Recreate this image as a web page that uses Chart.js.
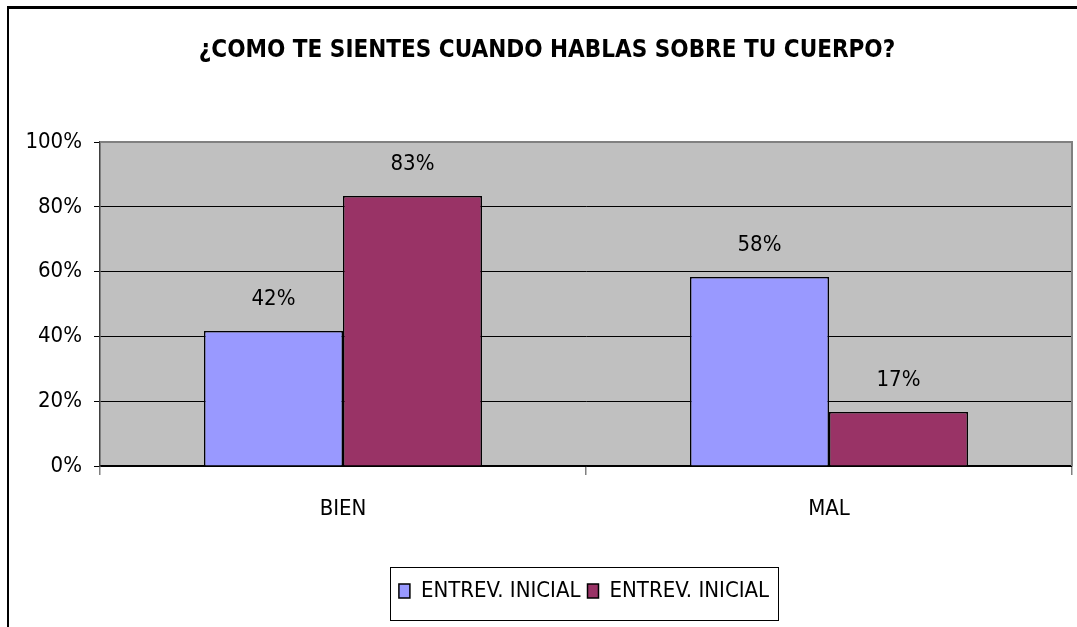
<!DOCTYPE html>
<html>
<head>
<meta charset="utf-8">
<script src="https://cdn.jsdelivr.net/npm/chart.js@4.4.0/dist/chart.umd.min.js"></script>
<style>
  html, body { margin: 0; padding: 0; background: #fff; overflow: hidden; }
  #wrap { position: relative; width: 1077px; height: 627px; }
  #frame { position: absolute; left: 7px; top: 6px; width: 1200px; height: 800px;
           border-left: 2px solid #000; border-top: 3px solid #000; pointer-events: none; }
</style>
</head>
<body>
<div id="wrap">
  <canvas id="chart" width="1077" height="627"></canvas>
  <div id="frame"></div>
</div>
<script>
// data
var categories = ['BIEN', 'MAL'];
var seriesNames = ['ENTREV. INICIAL', 'ENTREV. INICIAL'];
var serieAzul = [41.67, 58.33];
var serieGranate = [83.33, 16.67];
var yTicks = [0, 20, 40, 60, 80, 100];

var FONT = "'Liberation Sans Narrow', 'DejaVu Sans Condensed', sans-serif";

// fondo gris del area de trazado
var plotBg = {
  id: 'plotBg',
  beforeDraw: function(chart) {
    var a = chart.chartArea, ctx = chart.ctx;
    ctx.save();
    ctx.fillStyle = '#C0C0C0';
    ctx.fillRect(a.left, a.top, a.right - a.left, a.bottom - a.top);
    ctx.restore();
  },
  afterDraw: function(chart) {
    var a = chart.chartArea, ctx = chart.ctx;
    ctx.save();
    ctx.strokeStyle = '#808080';
    ctx.lineWidth = 2;
    ctx.beginPath();
    ctx.moveTo(a.left, a.top);
    ctx.lineTo(a.right, a.top);
    ctx.lineTo(a.right, a.bottom);
    ctx.stroke();
    ctx.restore();
  }
};

// etiquetas de valor encima de las barras
var valueLabels = {
  id: 'valueLabels',
  afterDatasetsDraw: function(chart) {
    var ctx = chart.ctx;
    ctx.save();
    ctx.font = '22px ' + FONT;
    ctx.fillStyle = '#000';
    ctx.textAlign = 'center';
    ctx.textBaseline = 'middle';
    chart.data.datasets.forEach(function(ds, i) {
      chart.getDatasetMeta(i).data.forEach(function(bar, j) {
        ctx.fillText(Math.round(ds.data[j]) + '%', bar.x, bar.y - 32);
      });
    });
    ctx.restore();
  }
};

// mueve titulo y leyenda como en el original
var shiftBoxes = {
  id: 'shiftBoxes',
  afterLayout: function(chart) {
    chart.titleBlock.left += 11;
    chart.titleBlock.right += 11;
    chart.legend.left += 48;
    chart.legend.right += 48;
  },
  afterDraw: function(chart) {
    var hb = chart.legend.legendHitBoxes;
    if (!hb || !hb.length) return;
    var first = hb[0], last = hb[hb.length - 1];
    var x1 = first.left - 9, x2 = last.left + last.width + 9;
    var y1 = first.top - 13, y2 = first.top + 40;
    var ctx = chart.ctx;
    ctx.save();
    ctx.strokeStyle = '#000';
    ctx.lineWidth = 1;
    ctx.strokeRect(Math.round(x1) + 0.5, Math.round(y1) + 0.5, Math.round(x2 - x1), Math.round(y2 - y1));
    ctx.restore();
  }
};

new Chart(document.getElementById('chart'), {
  type: 'bar',
  data: {
    labels: categories,
    datasets: [
      { label: seriesNames[0], data: serieAzul, backgroundColor: '#9999FF', borderColor: '#000', borderWidth: 1.5 },
      { label: seriesNames[1], data: serieGranate, backgroundColor: '#993366', borderColor: '#000', borderWidth: 1.5 }
    ]
  },
  options: {
    responsive: false,
    animation: false,
    layout: { padding: { left: 0, right: 5, top: 0, bottom: 15 } },
    datasets: { bar: { barPercentage: 1, categoryPercentage: 0.572 } },
    plugins: {
      title: {
        display: true,
        text: '¿COMO TE SIENTES CUANDO HABLAS SOBRE TU CUERPO?',
        color: '#000',
        font: { family: FONT, size: 24, weight: 'bold' },
        padding: { top: 36.6, bottom: 76.6 }
      },
      legend: {
        position: 'bottom',
        labels: {
          color: '#000',
          font: { family: FONT, size: 22 },
          boxWidth: 11,
          boxHeight: 14,
          padding: 7,
          generateLabels: function(chart) {
            return chart.data.datasets.map(function(ds, i) {
              return { text: ds.label, fillStyle: ds.backgroundColor, strokeStyle: '#000',
                       lineWidth: 1.5, datasetIndex: i, fontColor: '#000' };
            });
          }
        }
      },
      tooltip: { enabled: false }
    },
    scales: {
      x: {
        grid: { drawOnChartArea: false, color: '#808080', tickLength: 9, lineWidth: 1.5 },
        border: { color: '#000', width: 1.5 },
        ticks: { color: '#000', font: { family: FONT, size: 22 }, padding: 21 },
        afterFit: function(scale) { scale.height = 107; }
      },
      y: {
        min: 0,
        max: 100,
        afterBuildTicks: function(scale) {
          scale.ticks = yTicks.map(function(v) { return { value: v }; });
        },
        grid: { color: '#000', tickLength: 6, lineWidth: 1 },
        border: { color: '#404040', width: 1.5 },
        ticks: {
          color: '#000',
          font: { family: FONT, size: 22 },
          padding: 12,
          callback: function(v) { return v + '%'; }
        },
        afterFit: function(scale) { scale.width = 100; }
      }
    }
  },
  plugins: [plotBg, valueLabels, shiftBoxes]
});
</script>
</body>
</html>
